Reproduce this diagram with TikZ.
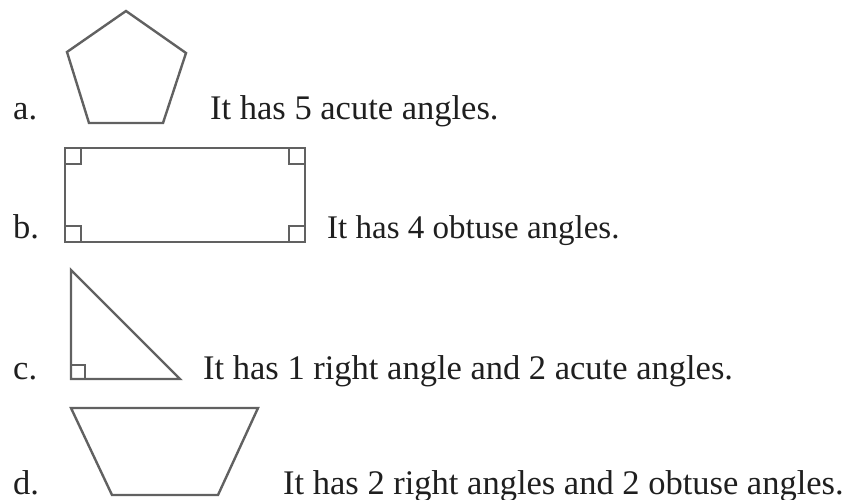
\documentclass[tikz,border=0pt]{standalone}
\usepackage{fontspec}
\setmainfont{Liberation Serif}
\begin{document}
\begin{tikzpicture}[x=1pt,y=-1pt,
  shape line/.style={draw=black!62, line width=2.4pt, line join=miter},
  mark line/.style={draw=black!62, line width=1.4pt},
  txt/.style={anchor=base west, inner sep=0pt, text=black!88,
    font=\fontsize{34.5}{40}\selectfont}]
\useasboundingbox (0,0) rectangle (851,500);
% labels
\node[txt] (la) at (13,120) {a.};
\node[txt] (lb) at (13,238) {b.};
\node[txt] (lc) at (13,379) {c.};
\node[txt] (ld) at (13,494) {d.};
% statements
\node[txt] (ta) at (210,120) {It has 5 acute angles.};
\node[txt, font=\fontsize{33}{40}\selectfont] (tb) at (327,238) {It has 4 obtuse angles.};
\node[txt] (tc) at (203,379) {It has 1 right angle and 2 acute angles.};
\node[txt] (td) at (283,494) {It has 2 right angles and 2 obtuse angles.};
% a. pentagon
\draw[shape line] (126,11) -- (186,53) -- (163,123) -- (89,123) -- (67,52) -- cycle;
% b. rectangle
\draw[shape line] (65,148) rectangle (305,242);
\draw[mark line] (65,164) -- (81,164) -- (81,148);
\draw[mark line] (305,164) -- (289,164) -- (289,148);
\draw[mark line] (65,226) -- (81,226) -- (81,242);
\draw[mark line] (305,226) -- (289,226) -- (289,242);
% c. right triangle
\draw[shape line] (71,270) -- (71,379) -- (180,379) -- cycle;
\draw[mark line] (71,365) -- (85,365) -- (85,379);
% d. trapezoid
\draw[shape line] (71,408) -- (258,408) -- (218,495) -- (112,495) -- cycle;
\end{tikzpicture}
\end{document}
